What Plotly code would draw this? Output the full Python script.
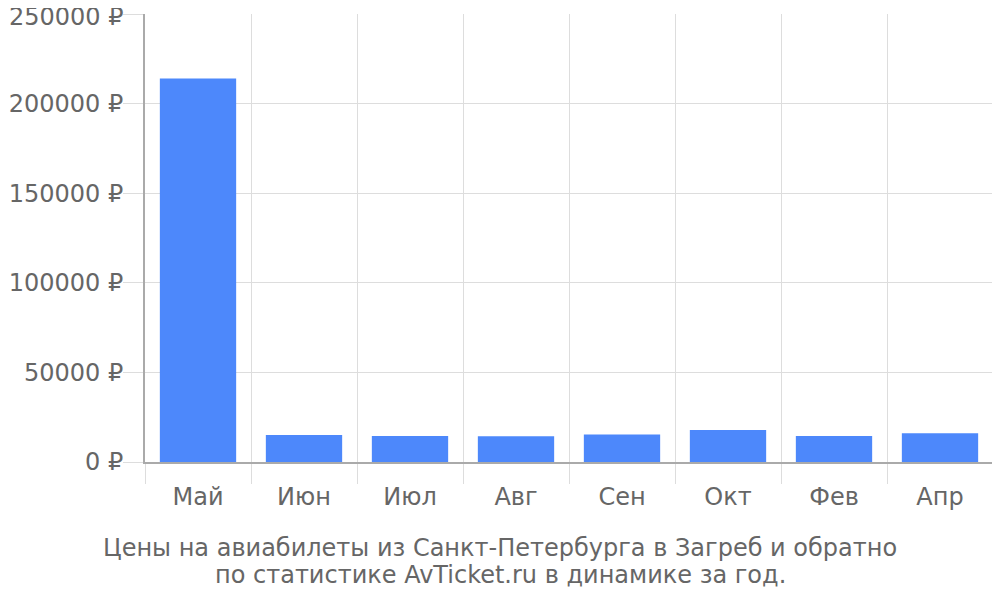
import plotly.graph_objects as go

months = ["Май", "Июн", "Июл", "Авг", "Сен", "Окт", "Фев", "Апр"]
prices = [214000, 15000, 14500, 14300, 15300, 17900, 14500, 16000]
y_ticks = [0, 50000, 100000, 150000, 200000, 250000]
y_labels = [f"{v} ₽" for v in y_ticks]
title_lines = ["Цены на авиабилеты из Санкт-Петербурга в Загреб и обратно",
               "по статистике AvTicket.ru в динамике за год."]

fig = go.Figure(go.Bar(x=months, y=prices, marker_color="#4d88fb",
                       marker_line_width=0))

font = dict(family="DejaVu Sans", size=24, color="#666666")
fig.update_layout(
    width=992, height=592,
    margin=dict(l=137, r=7, t=6, b=138),
    plot_bgcolor="white", paper_bgcolor="white",
    bargap=0.28, showlegend=False, font=font,
)
fig.update_xaxes(
    type="category", tickson="boundaries", showgrid=True, gridcolor="#dddddd",
    ticks="outside", ticklen=20, tickcolor="#dddddd", automargin=False,
    showline=True, linecolor="#aaaaaa", linewidth=2, tickfont=font,
    ticklabelstandoff=12,
)
# top tick label is drawn as an annotation nudged down so it is not clipped
shown_labels = y_labels[:-1] + [""]
fig.update_yaxes(
    range=[0, 250000], tickvals=y_ticks, ticktext=shown_labels, automargin=False,
    showgrid=True, gridcolor="#dddddd", ticks="outside", ticklen=20,
    tickcolor="#dddddd", showline=True, linecolor="#aaaaaa", linewidth=2,
    zeroline=False, tickfont=font, ticklabelstandoff=-5,
    ticklabeloverflow="allow",
)
fig.add_annotation(text=y_labels[-1], x=0, y=y_ticks[-1], xref="paper", yref="y",
                   xanchor="right", yanchor="middle", xshift=-19, yshift=-3,
                   showarrow=False, font=font)
xc = (492 - 137) / 848
for line, ypix in zip(title_lines, [548, 575]):
    fig.add_annotation(text=line, x=xc, y=0, xref="paper", yref="paper",
                       xanchor="center", yanchor="middle",
                       yshift=-(ypix - 462), showarrow=False,
                       font=dict(family="DejaVu Sans", size=24, color="#666666"))
fig.write_html("out.html")
